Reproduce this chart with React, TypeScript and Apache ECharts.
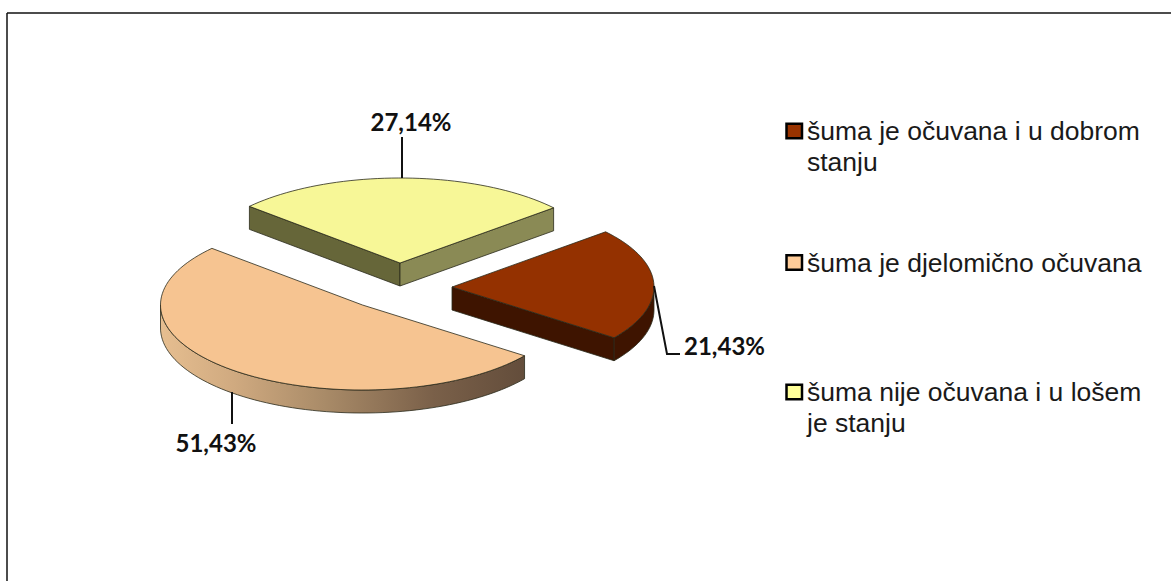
import React, { useEffect, useRef } from "react";
import * as echarts from "echarts";

const categories = [
  "šuma nije očuvana i u lošem\nje stanju",
  "šuma je očuvana i u dobrom\nstanju",
  "šuma je djelomično očuvana",
];
const values = [27.14, 21.43, 51.43];
const legendOrder = [1, 2, 0];
const topColors = ["#F7F797", "#943100", "#F6C491"];
const legendColors = ["#FFFF99", "#993300", "#FFCC99"];

const START = -48.2;
const RX = 202;
const RY = 85;
const DEPTH = 23;
const centres = [[400, 263], [452, 287], [362.5, 305]];
const leaders = [
  [[402, 178], [402, 137]],
  [[654, 286], [667, 354], [680, 354]],
  [[232, 392], [232, 424]],
];
const labelAnchors = [[411, 121], [724.5, 345.5], [216, 442.5]];
const total = values.reduce((a, b) => a + b, 0);

const pt = (c: number[], deg: number, dy = 0) => {
  const r = (deg * Math.PI) / 180;
  return [c[0] + RX * Math.sin(r), c[1] - RY * Math.cos(r) + dy];
};
const arc = (c: number[], a: number, b: number, dy = 0) => {
  const n = Math.max(2, Math.ceil(Math.abs(b - a) / 2));
  const out: number[][] = [];
  for (let i = 0; i <= n; i++) out.push(pt(c, a + ((b - a) * i) / n, dy));
  return out;
};
const edge = { stroke: "#2a2a1a", lineWidth: 0.8 };

const renderSlice = (idx: number) => (_p: any, api: any) => {
  const v = api.value(0);
  const before = values.slice(0, idx).reduce((a, b) => a + b, 0);
  const a0 = START + (before / total) * 360;
  const a1 = a0 + (v / total) * 360;
  const c = centres[idx];
  const kids: any[] = [];
  const poly = (points: number[][], fill: any) =>
    kids.push({ type: "polygon", shape: { points }, style: { fill, ...edge } });
  const down = (p: number[]) => [p[0], p[1] + DEPTH];

  if (idx === 0) {
    const l = pt(c, a0);
    const r = pt(c, a1);
    poly([l, c, down(c), down(l)], "#666639");
    poly([c, r, down(r), down(c)], "#8A8A55");
  }
  if (idx === 1) {
    const e = pt(c, a1);
    poly([c, e, down(e), down(c)], "#3E1400");
    const front = arc(c, 90, a1);
    poly([...front, ...front.slice().reverse().map(down)], "#3E1400");
  }
  if (idx === 2) {
    const front = arc(c, a0, 270);
    poly([...front, ...front.slice().reverse().map(down)], {
      type: "linear", x: 1, y: 0, x2: 0, y2: 0,
      colorStops: [
        { offset: 0, color: "#634D3B" },
        { offset: 0.25, color: "#7A6049" },
        { offset: 0.55, color: "#A98B68" },
        { offset: 0.8, color: "#D0AA80" },
        { offset: 1, color: "#E6BE90" },
      ],
    });
  }
  poly([c, ...arc(c, a0, a1)], topColors[idx]);

  kids.push({
    type: "polyline",
    shape: { points: leaders[idx] },
    style: { stroke: "#111", lineWidth: 2, fill: "none" },
  });
  const [tx, ty] = labelAnchors[idx];
  kids.push({
    type: "text",
    style: {
      x: tx, y: ty,
      text: v.toFixed(2).replace(".", ",") + "%",
      font: "bold 24px Lato",
      fill: "#111",
      align: "center",
      verticalAlign: "middle",
    },
  });
  return { type: "group", children: kids };
};

const legendTops = [79.5, 242, 340.5];

export default function App() {
  const ref = useRef<HTMLDivElement>(null);
  useEffect(() => {
    document.body.style.margin = "0";
    const chart = echarts.init(ref.current!, undefined, { renderer: "svg" });
    chart.setOption({
      animation: false,
      backgroundColor: "#fff",
      legend: legendOrder.map((i, n) => ({
        orient: "vertical",
        left: 780.25,
        top: legendTops[n],
        itemWidth: 15.5,
        itemHeight: 14.5,
        selectedMode: false,
        data: [{
          name: categories[i],
          icon: "rect",
          itemStyle: { color: legendColors[i], borderColor: "#000", borderWidth: 2.5 },
        }],
        // A leading blank line keeps the first text line level with the swatch.
        formatter: (name: string) => (name.includes("\n") ? "\n" + name : name),
        textStyle: {
          fontFamily: "Liberation Sans",
          fontSize: 26.5,
          lineHeight: 31,
          color: "#1a1a1a",
        },
      })),
      graphic: [
        { type: "line", shape: { x1: 7, y1: 13, x2: 1171, y2: 13 }, style: { stroke: "#111", lineWidth: 1.5 } },
        { type: "line", shape: { x1: 7, y1: 13, x2: 7, y2: 581 }, style: { stroke: "#111", lineWidth: 1.5 } },
      ],
      series: values.map((v, i) => ({
        type: "custom",
        name: categories[i],
        coordinateSystem: "none",
        itemStyle: { color: legendColors[i] },
        data: [[v]],
        renderItem: renderSlice(i),
      })),
    });
    return () => chart.dispose();
  }, []);
  return <div ref={ref} style={{ width: 1171, height: 581 }} />;
}
